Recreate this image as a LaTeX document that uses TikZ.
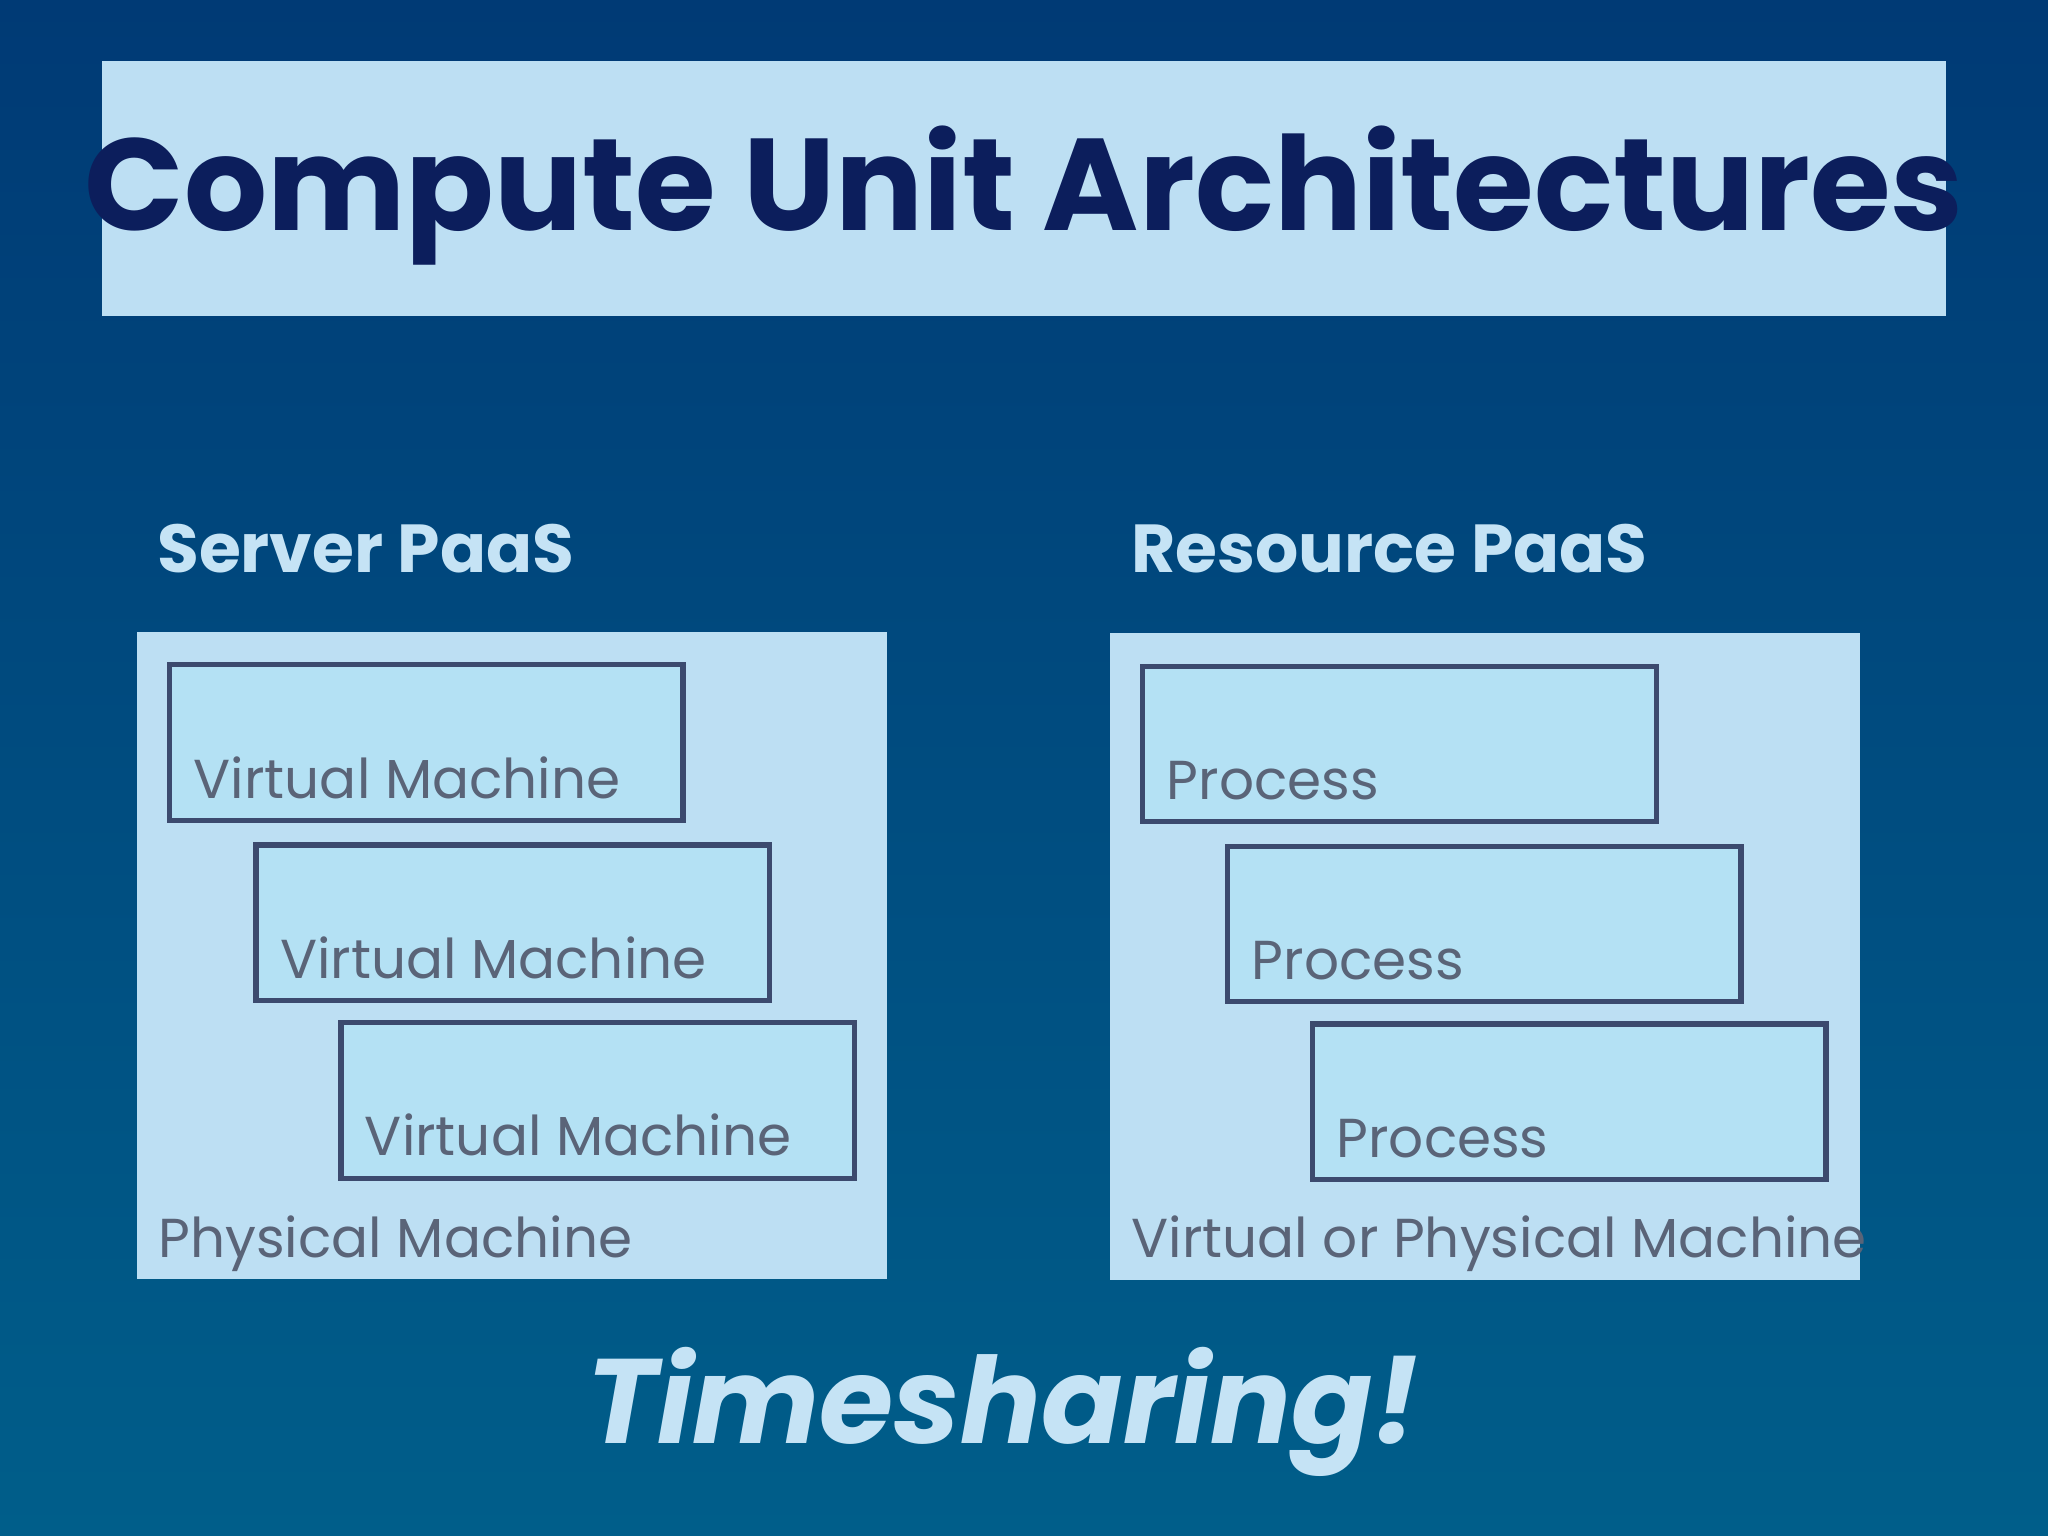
\documentclass[tikz,border=0pt]{standalone}
\usepackage{fontspec}
\setmainfont{Poppins}
\definecolor{bgtop}{HTML}{003A75}
\definecolor{bgbot}{HTML}{005E8A}
\definecolor{pale}{HTML}{BDDFF3}
\definecolor{titlec}{HTML}{0C1E5C}
\definecolor{edge}{HTML}{3C4A6E}
\definecolor{lbl}{HTML}{5A6478}
\definecolor{head}{HTML}{C5E3F5}
\begin{document}
\begin{tikzpicture}[x=0.5pt,y=-0.5pt,
  panel/.style={fill=pale,draw=none},
  unit/.style={draw=edge,line width=2pt,fill=pale!95!cyan},
  lab/.style={anchor=base west,text=lbl,font=\fontsize{21}{24}\selectfont,inner sep=0pt},
  head/.style={anchor=base west,text=head,font=\bfseries\fontsize{26}{30}\selectfont,inner sep=0pt}]
\shade[top color=bgtop,bottom color=bgbot] (0,0) rectangle (1568,1176);
\useasboundingbox (0,0) rectangle (1568,1176);
\fill[pale] (78,47) rectangle (1490,242);
\node[text=titlec,font=\bfseries\fontsize{50}{56}\selectfont] (title) at (784,150) {Compute Unit Architectures};
\node[head] (sh) at (120,438) {Server PaaS};
\node[head] (rh) at (866,438) {Resource PaaS};
\fill[panel] (105,484) rectangle (679,979);
\fill[panel] (850,485) rectangle (1424,980);
\foreach \x/\y/\n in {130/509/a,196/647/b,261/783/c}{
  \draw[unit] (\x,\y) rectangle ++(393,119);
  \node[lab] (vm\n) at (\x+18,\y+102) {Virtual Machine};
}
\foreach \x/\y/\n in {875/510/a,940/648/b,1005/784/c}{
  \draw[unit] (\x,\y) rectangle ++(393,119);
  \node[lab] (p\n) at (\x+18,\y+102) {Process};
}
\node[lab] (pm) at (121,963) {Physical Machine};
\node[lab] (vpm) at (866,963) {Virtual or Physical Machine};
\node[text=head,font=\bfseries\itshape\fontsize{46}{52}\selectfont,anchor=base,inner sep=0pt] (ts) at (768,1105) {Timesharing!};
\end{tikzpicture}
\end{document}
